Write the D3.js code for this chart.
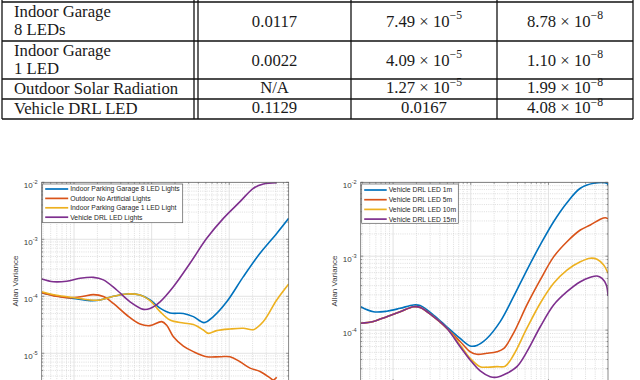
<!DOCTYPE html>
<html>
<head>
<meta charset="utf-8">
<script src="https://cdn.jsdelivr.net/npm/d3@7"></script>
<style>
  body { margin: 0; background: #fff; }
</style>
</head>
<body>
<svg class="fig"></svg>
<script>
// ---- table data ----
const rowLabels = [["Indoor Garage", "8 LEDs"], ["Indoor Garage", "1 LED"], ["Outdoor Solar Radiation"], ["Vehicle DRL LED"]];
const col2Values = ["0.0117", "0.0022", "N/A", "0.1129"];
const col3Values = [["7.49", "−5"], ["4.09", "−5"], ["1.27", "−5"], ["0.0167", null]];
const col4Values = [["8.78", "−8"], ["1.10", "−8"], ["1.99", "−8"], ["4.08", "−8"]];

// ---- left chart: [tau, Allan variance] ----
const leftNames = ["Indoor Parking Garage 8 LED Lights", "Outdoor No Artificial Lights", "Indoor Parking Garage 1 LED Light", "Vehicle DRL LED Lights"];
const garage8 = [[0.383,1.16e-4],[0.598,1.01e-4],[0.98,9.2e-5],[1.608,8.4e-5],[2.163,8.6e-5],[3.21,1.0e-4],[4.77,1.10e-4],[7.09,1.05e-4],[9.54,8.6e-5],[12.83,6.2e-5],[17.27,5.1e-5],[25.64,5.0e-5],[34.5,4.4e-5],[47.4,3.45e-5],[62.4,4.4e-5],[92.8,8.0e-5],[152.1,2.21e-4],[249.5,5.7e-4],[409,1.27e-3],[584,2.34e-3]];
const outdoor = [[0.383,1.16e-4],[0.598,1.0e-4],[0.888,9.4e-5],[1.319,1.0e-4],[1.775,1.07e-4],[2.388,9.9e-5],[3.21,7.5e-5],[4.77,4.7e-5],[7.09,3.27e-5],[9.54,3.06e-5],[13.49,3.59e-5],[15.64,3.1e-5],[19.06,1.95e-5],[25.64,1.34e-5],[34.5,1.07e-5],[51.3,8.7e-6],[76.1,8.7e-6],[102.4,8.7e-6],[137.8,7.1e-6],[185.4,5.5e-6],[249.5,4.8e-6],[335.7,3.7e-6],[370,3.4e-6],[409,3.8e-6]];
const garage1 = [[0.383,1.2e-4],[0.598,1.04e-4],[0.98,9.5e-5],[1.608,8.6e-5],[2.163,8.6e-5],[3.21,1.0e-4],[4.77,1.1e-4],[7.09,1.05e-4],[9.54,8.4e-5],[12.83,5.4e-5],[17.27,3.84e-5],[25.64,3.4e-5],[34.5,3.2e-5],[46.4,2.56e-5],[53.8,2.24e-5],[68.9,2.5e-5],[102.4,2.67e-5],[152.1,2.75e-5],[204.6,2.6e-5],[275.4,3.6e-5],[409,8.6e-5],[584,1.64e-4]];
const vehicle = [[0.383,2.01e-4],[0.542,1.80e-4],[0.804,1.84e-4],[1.195,2.07e-4],[1.775,2.15e-4],[2.388,1.94e-4],[3.55,1.29e-4],[5.27,8.0e-5],[7.83,5.9e-5],[9.54,6.1e-5],[12.83,8.0e-5],[19.06,1.47e-4],[31.25,3.8e-4],[51.3,1.04e-3],[84.0,2.33e-3],[137.8,4.57e-3],[204.6,7.85e-3],[275.4,9.3e-3],[409,9.8e-3]];

// ---- right chart: [tau, Allan variance] ----
const rightNames = ["Vehicle DRL LED 1m", "Vehicle DRL LED 5m", "Vehicle DRL LED 10m", "Vehicle DRL LED 15m"];
const drl1m = [[0.383,2.07e-4],[0.558,1.77e-4],[0.829,1.8e-4],[1.231,1.97e-4],[1.828,2.19e-4],[2.228,2.15e-4],[3.31,1.6e-4],[4.91,1.11e-4],[7.30,7.7e-5],[9.82,6.1e-5],[11.97,6.2e-5],[16.11,7.7e-5],[23.92,1.3e-4],[35.53,2.83e-4],[52.8,6.5e-4],[78.4,1.42e-3],[116.5,2.93e-3],[173,5.3e-3],[257,8.3e-3],[381.6,9.7e-3],[566.7,9.7e-3],[584,9.2e-3]];
const drl5m = [[0.383,1.24e-4],[0.558,1.31e-4],[0.829,1.52e-4],[1.231,1.77e-4],[1.828,2.07e-4],[2.228,2.03e-4],[3.31,1.52e-4],[4.91,1.06e-4],[7.30,7.0e-5],[9.82,5.1e-5],[11.97,4.7e-5],[16.11,4.85e-5],[21.67,5.1e-5],[26.41,5.6e-5],[35.53,9.1e-5],[52.8,2.19e-4],[78.4,4.77e-4],[116.5,9.8e-4],[173,1.57e-3],[257,2.26e-3],[345.7,2.64e-3],[465.1,3.16e-3],[539.5,3.32e-3],[584,3.2e-3]];
const drl10m = [[0.383,1.24e-4],[0.558,1.31e-4],[0.829,1.52e-4],[1.231,1.77e-4],[1.828,2.07e-4],[2.228,2.03e-4],[3.31,1.52e-4],[4.91,1.06e-4],[7.30,6.3e-5],[9.82,4.15e-5],[13.22,3.2e-5],[16.11,3.15e-5],[21.67,3.2e-5],[27.75,3.25e-5],[35.53,4.6e-5],[52.8,1.06e-4],[78.4,2.31e-4],[116.5,4.3e-4],[173,6.5e-4],[257,8.4e-4],[345.7,9.4e-4],[421.3,9.1e-4],[513.4,7.6e-4],[584,5.9e-4]];
const drl15m = [[0.383,1.24e-4],[0.558,1.31e-4],[0.829,1.52e-4],[1.231,1.77e-4],[1.828,2.07e-4],[2.228,2.03e-4],[3.31,1.52e-4],[4.91,1.06e-4],[7.30,5.96e-5],[9.82,3.94e-5],[13.22,2.8e-5],[17.78,2.34e-5],[21.67,2.3e-5],[29.16,2.6e-5],[39.25,3.2e-5],[52.8,5.1e-5],[78.4,1.11e-4],[116.5,2.19e-4],[173,3.31e-4],[257,4.52e-4],[345.7,5.18e-4],[421.3,5.4e-4],[488.7,5.0e-4],[555.6,4.07e-4],[584,2.89e-4]];

const tauDomain = [0.383, 584];
const colors = ["#0072BD", "#D95319", "#EDB120", "#7E2F8E"];

const width = 640;
const height = 380;

const svg = d3.select("svg.fig")
  .attr("width", width)
  .attr("height", height)
  .attr("viewBox", `0 0 ${width} ${height}`);

// ---------------- table ----------------
function drawTable() {
  const colX = [2, 194, 198, 351, 497, 633];
  const rowY = [2, 41, 79, 99, 119];
  const serif = "'Liberation Serif', 'Times New Roman', serif";
  const fs = 16.7;
  const t = svg.append("g");

  t.selectAll("line.h").data(rowY).join("line")
    .attr("x1", colX[0]).attr("x2", colX[colX.length - 1])
    .attr("y1", d => d).attr("y2", d => d)
    .attr("stroke", "#111").attr("stroke-width", 1.3);
  t.selectAll("line.v").data(colX).join("line")
    .attr("x1", d => d).attr("x2", d => d)
    .attr("y1", -2).attr("y2", rowY[rowY.length - 1])
    .attr("stroke", "#111").attr("stroke-width", 1.3);

  const textG = t.append("g")
    .style("font-family", serif)
    .style("font-size", fs + "px")
    .attr("fill", "#1a1a1a");

  rowLabels.forEach((lines, i) => {
    const top = rowY[i];
    lines.forEach((s, j) => {
      textG.append("text")
        .attr("x", 14)
        .attr("y", top + 14.5 + j * 18.5)
        .text(s);
    });
  });

  const mid = i => {
    const h = rowY[i + 1] - rowY[i];
    return rowY[i] + (h > 30 ? 24.5 : 14);
  };

  col2Values.forEach((s, i) => {
    textG.append("text")
      .attr("x", (colX[2] + colX[3]) / 2)
      .attr("y", mid(i))
      .attr("text-anchor", "middle")
      .text(s);
  });

  function sci(cx, i, [m, e]) {
    const el = textG.append("text")
      .attr("x", cx)
      .attr("y", mid(i))
      .attr("text-anchor", "middle");
    if (e === null) { el.text(m); return; }
    el.append("tspan").text(`${m} × 10`);
    el.append("tspan")
      .attr("dy", -7.5)
      .style("font-size", "11.7px")
      .text(e);
  }
  col3Values.forEach((v, i) => sci((colX[3] + colX[4]) / 2, i, v));
  col4Values.forEach((v, i) => sci((colX[4] + colX[5]) / 2, i, v));
}

drawTable();

// ---------------- charts ----------------
function drawChart(cfg) {
  const { left, right, top, yLow, yBottomPx, series, names, legend, id } = cfg;
  const sans = "'Liberation Sans', Arial, Helvetica, sans-serif";
  const bottom = yBottomPx;

  const x = d3.scaleLog().domain(tauDomain).range([left, right]);
  const y = d3.scaleLog().domain([yLow, 1e-2]).range([bottom, top]);

  const g = svg.append("g");

  g.append("clipPath").attr("id", `clip-${id}`)
    .append("rect")
    .attr("x", left).attr("y", top)
    .attr("width", right - left).attr("height", bottom - top);

  // minor / major values
  const xMajor = [1, 10, 100];
  const xMinor = [];
  [0.1, 1, 10, 100].forEach(d => d3.range(2, 10).forEach(k => {
    const v = d * k;
    if (v > tauDomain[0] && v < tauDomain[1]) xMinor.push(v);
  }));
  const yMajor = [1e-2, 1e-3, 1e-4, 1e-5, 1e-6].filter(v => v >= yLow);
  const yMinor = [];
  [1e-7, 1e-6, 1e-5, 1e-4, 1e-3].forEach(d => d3.range(2, 10).forEach(k => {
    const v = d * k;
    if (v > yLow && v < 1e-2) yMinor.push(v);
  }));

  // grid
  const grid = g.append("g").attr("fill", "none");
  grid.selectAll("line.xm").data(xMinor).join("line")
    .attr("x1", d => x(d)).attr("x2", d => x(d))
    .attr("y1", top).attr("y2", bottom)
    .attr("stroke", "#c8c8c8").attr("stroke-width", 0.6)
    .attr("stroke-dasharray", "1,1.2");
  grid.selectAll("line.ym").data(yMinor).join("line")
    .attr("x1", left).attr("x2", right)
    .attr("y1", d => y(d)).attr("y2", d => y(d))
    .attr("stroke", "#c8c8c8").attr("stroke-width", 0.6)
    .attr("stroke-dasharray", "1,1.2");
  grid.selectAll("line.xM").data(xMajor).join("line")
    .attr("x1", d => x(d)).attr("x2", d => x(d))
    .attr("y1", top).attr("y2", bottom)
    .attr("stroke", "#dcdcdc").attr("stroke-width", 0.8);
  grid.selectAll("line.yM").data(yMajor).join("line")
    .attr("x1", left).attr("x2", right)
    .attr("y1", d => y(d)).attr("y2", d => y(d))
    .attr("stroke", "#dcdcdc").attr("stroke-width", 0.8);

  // series
  const line = d3.line()
    .curve(d3.curveCatmullRom.alpha(0.5))
    .x(d => x(d[0]))
    .y(d => y(d[1]));

  g.append("g")
    .attr("clip-path", `url(#clip-${id})`)
    .attr("fill", "none")
    .attr("stroke-width", 1.6)
    .selectAll("path")
    .data(series)
    .join("path")
    .attr("stroke", (d, i) => colors[i])
    .attr("d", line);

  // axes box with inward ticks
  const axisColor = "#5a5a5a";
  g.append("rect")
    .attr("x", left).attr("y", top)
    .attr("width", right - left).attr("height", bottom - top)
    .attr("fill", "none").attr("stroke", axisColor).attr("stroke-width", 0.7);

  const ticks = g.append("g").attr("stroke", axisColor).attr("stroke-width", 0.6);
  [[xMajor, 2.6], [xMinor, 1.5]].forEach(([vals, len]) => {
    vals.forEach(v => {
      ticks.append("line").attr("x1", x(v)).attr("x2", x(v)).attr("y1", top).attr("y2", top + len);
      ticks.append("line").attr("x1", x(v)).attr("x2", x(v)).attr("y1", bottom).attr("y2", bottom - len);
    });
  });
  [[yMajor, 2.6], [yMinor, 1.5]].forEach(([vals, len]) => {
    vals.forEach(v => {
      ticks.append("line").attr("x1", left).attr("x2", left + len).attr("y1", y(v)).attr("y2", y(v));
      ticks.append("line").attr("x1", right).attr("x2", right - len).attr("y1", y(v)).attr("y2", y(v));
    });
  });

  // y tick labels (10^n)
  const labels = g.append("g")
    .style("font-family", sans)
    .attr("fill", "#3a3a3a");
  yMajor.forEach(v => {
    const e = Math.round(Math.log10(v));
    const t = labels.append("text")
      .attr("x", left - 4)
      .attr("y", y(v) + 6)
      .attr("text-anchor", "end")
      .style("font-size", "8px");
    t.append("tspan").text("10");
    t.append("tspan").attr("dy", -4).style("font-size", "5.6px").text(String(e));
  });

  labels.append("text")
    .attr("transform", `translate(${left - 24},281) rotate(-90)`)
    .attr("text-anchor", "middle")
    .style("font-size", "8px")
    .text("Allan Variance");

  // legend
  const lg = g.append("g");
  lg.append("rect")
    .attr("x", legend.x).attr("y", legend.y)
    .attr("width", legend.w).attr("height", legend.h)
    .attr("fill", "#fff").attr("stroke", axisColor).attr("stroke-width", 0.7);
  names.forEach((name, i) => {
    const yy = legend.y + legend.first + i * legend.step;
    lg.append("line")
      .attr("x1", legend.x + 2.5).attr("x2", legend.x + 2.5 + legend.lineLen)
      .attr("y1", yy).attr("y2", yy)
      .attr("stroke", colors[i]).attr("stroke-width", 1.7);
    lg.append("text")
      .attr("x", legend.x + 4.5 + legend.lineLen)
      .attr("y", yy + 2.4)
      .style("font-family", sans)
      .style("font-size", "6.8px")
      .attr("fill", "#262626")
      .text(name);
  });
}

drawChart({
  id: "left",
  left: 41.7, right: 288.7, top: 182.3,
  yLow: Math.pow(10, -5.55), yBottomPx: 182.3 + 3.55 * 57,
  series: [garage8, outdoor, garage1, vehicle],
  names: leftNames,
  legend: { x: 42.7, y: 184, w: 140, h: 38.7, first: 5, step: 9.4, lineLen: 23 }
});

drawChart({
  id: "right",
  left: 360.7, right: 608, top: 182.3,
  yLow: Math.pow(10, -4.7), yBottomPx: 182.3 + 2.7 * 73.9,
  series: [drl1m, drl5m, drl10m, drl15m],
  names: rightNames,
  legend: { x: 361.7, y: 184, w: 96.6, h: 39.3, first: 6, step: 9.7, lineLen: 22.5 }
});
</script>
</body>
</html>
